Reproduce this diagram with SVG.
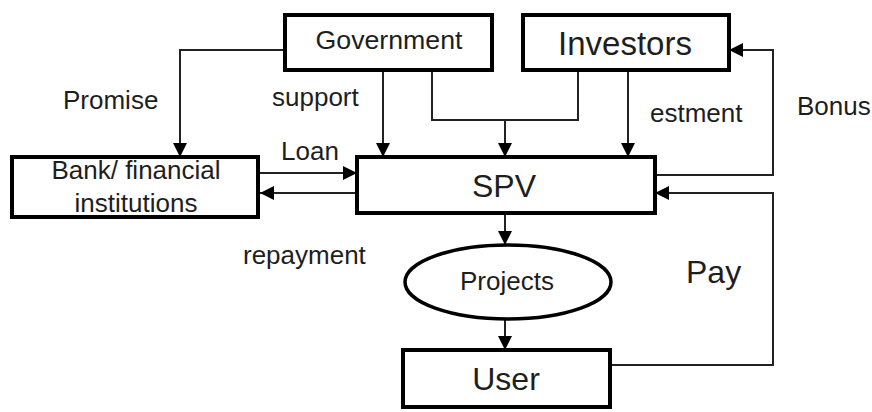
<svg xmlns="http://www.w3.org/2000/svg" width="872" height="412" viewBox="0 0 872 412">
  <style>
    .box { fill: #ffffff; stroke: #000000; stroke-width: 4; }
    .link { fill: none; stroke: #222222; stroke-width: 2; }
    .lbl { font-family: "Liberation Sans", Arial, sans-serif; font-size: 26px; fill: #1e1e1e; }
    .big { font-family: "Liberation Sans", Arial, sans-serif; font-size: 32px; fill: #1e1e1e; }
    .mid { text-anchor: middle; }
  </style>
  <defs>
    <marker id="arrow" markerUnits="userSpaceOnUse" markerWidth="14" markerHeight="14" refX="14" refY="7" orient="auto">
      <path d="M0,0 L14,7 L0,14 Z" fill="#000000"/>
    </marker>
  </defs>

  <rect width="872" height="412" fill="#ffffff"/>

  <!-- connectors -->
  <g id="connectors">
    <!-- Government to bank (promise) -->
    <polyline class="link" points="285,50 180,50 180,157" marker-end="url(#arrow)"/>
    <!-- Government to SPV (support) -->
    <line class="link" x1="383" y1="70" x2="383" y2="157" marker-end="url(#arrow)"/>
    <!-- Government and investors joint line into SPV -->
    <polyline class="link" points="432,70 432,120 578,120 578,70"/>
    <line class="link" x1="505" y1="120" x2="505" y2="157" marker-end="url(#arrow)"/>
    <!-- Investors to SPV (investment) -->
    <line class="link" x1="628" y1="70" x2="628" y2="157" marker-end="url(#arrow)"/>
    <!-- SPV back to investors (bonus) -->
    <polyline class="link" points="655,175 773,175 773,50 729,50" marker-end="url(#arrow)"/>
    <!-- User pays SPV -->
    <polyline class="link" points="610,365 773,365 773,193 655,193" marker-end="url(#arrow)"/>
    <!-- Loan and repayment between bank and SPV -->
    <line class="link" x1="260" y1="173" x2="357" y2="173" marker-end="url(#arrow)"/>
    <line class="link" x1="357" y1="193" x2="260" y2="193" marker-end="url(#arrow)"/>
    <!-- SPV to projects, projects to user -->
    <line class="link" x1="505" y1="213" x2="505" y2="245" marker-end="url(#arrow)"/>
    <line class="link" x1="505" y1="320" x2="505" y2="350" marker-end="url(#arrow)"/>
  </g>

  <!-- connector labels -->
  <g id="labels">
    <text class="lbl" x="63" y="109">Promise</text>
    <text class="lbl" x="272" y="106">support</text>
    <text class="lbl" x="281" y="160">Loan</text>
    <text class="lbl" x="243" y="264">repayment</text>
    <text class="lbl" x="650" y="122">estment</text>
    <text class="lbl" x="797" y="115">Bonus</text>
    <text class="big" x="686" y="283">Pay</text>
  </g>

  <!-- nodes -->
  <g id="government">
    <rect class="box" x="285" y="15" width="207" height="55"/>
    <text class="lbl mid" x="389" y="49" textLength="147" lengthAdjust="spacingAndGlyphs">Government</text>
  </g>
  <g id="investors">
    <rect class="box" x="523" y="15" width="206" height="55"/>
    <text class="big mid" x="625" y="55" style="font-size:33px">Investors</text>
  </g>
  <g id="bank">
    <rect class="box" x="12" y="157" width="246" height="60"/>
    <text class="lbl mid" x="136" y="179">Bank/ financial</text>
    <text class="lbl mid" x="136" y="212">institutions</text>
  </g>
  <g id="spv">
    <rect class="box" x="357" y="157" width="298" height="56"/>
    <text class="big mid" x="504" y="197">SPV</text>
  </g>
  <g id="projects">
    <ellipse class="box" cx="508" cy="282" rx="103" ry="37" style="stroke-width:3.5"/>
    <text class="lbl mid" x="507" y="290">Projects</text>
  </g>
  <g id="user">
    <rect class="box" x="403" y="350" width="207" height="57"/>
    <text class="big mid" x="506" y="390">User</text>
  </g>
</svg>
